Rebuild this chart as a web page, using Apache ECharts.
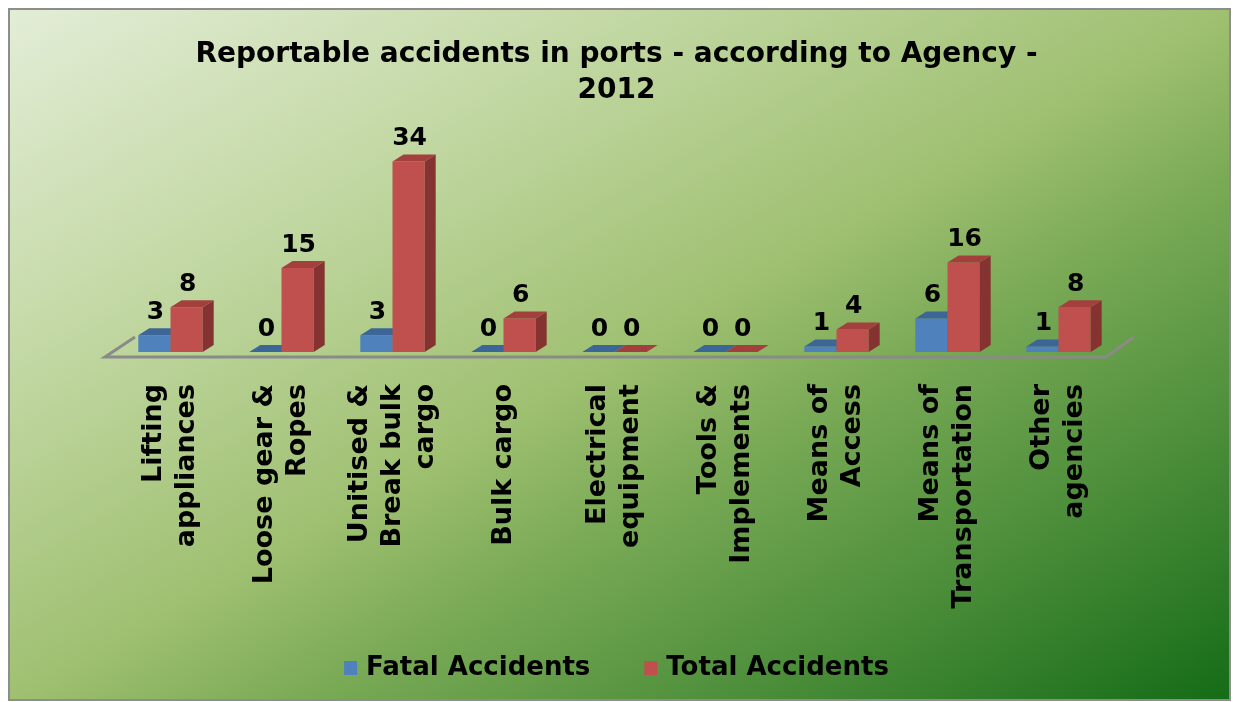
<!DOCTYPE html>
<html>
<head>
<meta charset="utf-8">
<script src="https://cdn.jsdelivr.net/npm/echarts@6/dist/echarts.min.js"></script>
<style>
  html, body { margin: 0; padding: 0; background: #fff; }
  #chart { width: 1233px; height: 702px; }
</style>
</head>
<body>
<div id="chart"></div>
<script>
const categories = [
  "Lifting\nappliances",
  "Loose gear &\nRopes",
  "Unitised &\nBreak bulk\ncargo",
  "Bulk cargo",
  "Electrical\nequipment",
  "Tools &\nImplements",
  "Means of\nAccess",
  "Means of\nTransportation",
  "Other\nagencies",
];
const fatalAccidents = [3, 0, 3, 0, 0, 0, 1, 6, 1];
const totalAccidents = [8, 15, 34, 6, 0, 0, 4, 16, 8];

const depthX = 11; // 3d depth
const depthY = -7;
const fontFam = "DejaVu Sans, Verdana, sans-serif";

// one 3d bar: front + side + top, with value label above
function bar3d(front, side, top, shift) {
  return function (params, api) {
    const idx = api.value(0);
    const val = api.value(1);
    const base = api.coord([idx, 0]);
    const head = api.coord([idx, val]);
    const w = api.size([1, 0])[0] * 0.29;
    const x0 = base[0] + shift * w;
    const x1 = x0 + w;
    const yb = base[1];
    const yt = head[1];
    return {
      type: "group",
      children: [
        {
          type: "rect",
          shape: { x: x0, y: yt, width: w, height: yb - yt },
          style: { fill: front },
        },
        {
          type: "polygon",
          shape: { points: [[x1, yt], [x1 + depthX, yt + depthY], [x1 + depthX, yb + depthY], [x1, yb]] },
          style: { fill: side },
        },
        {
          type: "polygon",
          shape: { points: [[x0, yt], [x1, yt], [x1 + depthX, yt + depthY], [x0 + depthX, yt + depthY]] },
          style: { fill: top },
        },
        {
          type: "text",
          style: {
            text: String(val),
            x: (x0 + x1) / 2 + 1,
            y: yt - 23,
            align: "center",
            verticalAlign: "middle",
            font: "bold 25px " + fontFam,
            fill: "#000",
          },
        },
      ],
    };
  };
}

const chart = echarts.init(document.getElementById("chart"));

// background: iso-lines run corner to corner (top-right / bottom-left)
const bgW = 1221, bgH = 691;
const bgD = bgW * bgW + bgH * bgH;
const gx2 = (2 * bgH * bgH) / bgD;
const gy2 = (2 * bgW * bgW) / bgD;

const option = {
  animation: false,
  graphic: [
    {
      type: "rect",
      z: -10,
      shape: { x: 9, y: 9, width: bgW, height: bgH },
      style: {
        fill: new echarts.graphic.LinearGradient(0, 0, gx2, gy2, [
          { offset: 0, color: "#e3edd7" },
          { offset: 0.25, color: "#c4d9a6" },
          { offset: 0.5, color: "#9fc071" },
          { offset: 0.62, color: "#7aaa56" },
          { offset: 0.82, color: "#468a36" },
          { offset: 1, color: "#146b16" },
        ]),
        stroke: "#8d8d8d",
        lineWidth: 2,
      },
    },
  ],
  title: {
    text: "Reportable accidents in ports - according to Agency -\n2012",
    left: "center",
    top: 32,
    textStyle: {
      fontFamily: fontFam,
      fontWeight: "bold",
      fontSize: 28,
      lineHeight: 36,
      color: "#000",
    },
  },
  legend: {
    bottom: 16,
    left: "center",
    itemWidth: 13,
    itemHeight: 14,
    itemGap: 54,
    icon: "rect",
    textStyle: {
      fontFamily: fontFam,
      fontWeight: "bold",
      fontSize: 26,
      padding: [0, 0, 0, 4],
      color: "#000",
    },
    data: ["Fatal Accidents", "Total Accidents"],
  },
  grid: {
    left: 115,
    width: 999,
    top: 128,
    bottom: 350,
  },
  xAxis: {
    type: "category",
    data: categories,
    axisLine: { show: false },
    axisTick: { show: false },
    axisLabel: {
      rotate: 90,
      interval: 0,
      margin: 32,
      fontFamily: fontFam,
      fontWeight: "bold",
      fontSize: 27,
      lineHeight: 33,
      color: "#000",
    },
  },
  yAxis: {
    type: "value",
    min: 0,
    max: 40,
    show: false,
    splitLine: { show: false },
  },
  series: [
    {
      name: "floor",
      type: "custom",
      silent: true,
      z: 1,
      renderItem: function (params, api) {
        const cs = params.coordSys;
        const y0 = api.coord([0, 0])[1];
        return {
          type: "polyline",
          shape: {
            points: [
              [cs.x + 20, y0 - 15],
              [cs.x - 10, y0 + 5],
              [cs.x + cs.width - 8, y0 + 5],
              [cs.x + cs.width + 20, y0 - 15],
            ],
          },
          style: { stroke: "#8a8a8a", lineWidth: 3, fill: null },
        };
      },
      data: [[0, 0]],
    },
    {
      name: "Fatal Accidents",
      type: "custom",
      z: 2,
      itemStyle: { color: "#4f81bd" },
      renderItem: bar3d("#4f81bd", "#3a6396", "#3c6698", -1),
      encode: { x: 0, y: 1 },
      data: fatalAccidents.map((v, i) => [i, v]),
    },
    {
      name: "Total Accidents",
      type: "custom",
      z: 3,
      itemStyle: { color: "#c0504d" },
      renderItem: bar3d("#c0504d", "#853331", "#a3403d", 0),
      encode: { x: 0, y: 1 },
      data: totalAccidents.map((v, i) => [i, v]),
    },
  ],
};

chart.setOption(option);
</script>
</body>
</html>
